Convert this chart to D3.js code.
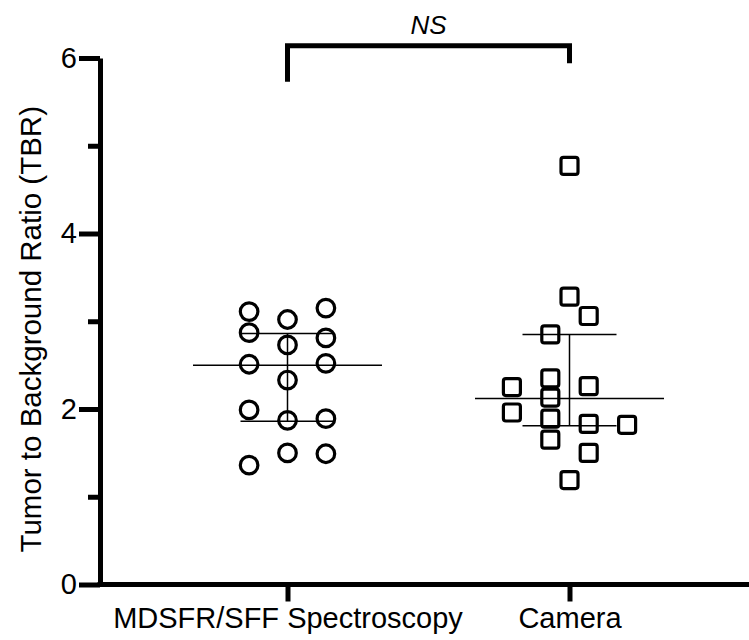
<!DOCTYPE html>
<meta charset="utf-8">
<style>
    body { margin: 0; background: #fff; }
    svg { display: block; font-family: "Liberation Sans", Arial, Helvetica, sans-serif; }
    .pt { fill: none; stroke: #000; stroke-width: 3.2px; }
    .stat { stroke: #000; stroke-width: 1.5px; }
</style>
<svg width="749" height="640">
    <rect fill="#fff" width="100%" height="100%"></rect>
</svg>
<script src="https://cdn.jsdelivr.net/npm/d3@7"></script>
<script>

    // groups on the x axis
    var groups = ["MDSFR/SFF Spectroscopy", "Camera"];

    // TBR values, with the column slot of the scatter
    var spectroValues = [3.11, 3.02, 3.15, 2.87, 2.81, 2.73, 2.51, 2.52, 2.33, 1.99, 1.87, 1.89, 1.50, 1.49, 1.36];
    var spectroSlots  = [-2, 0, 2, -2, 2, 0, -2, 2, 0, -2, 0, 2, 0, 2, -2];
    var cameraValues  = [4.77, 3.28, 3.06, 2.85, 2.35, 2.25, 2.26, 2.13, 1.96, 1.89, 1.83, 1.82, 1.65, 1.50, 1.19];
    var cameraSlots   = [0, 0, 1, -1, -1, -3, 1, -1, -3, -1, 1, 3, -1, 1, 0];

    // median and interquartile range per group
    var medians = [2.50, 2.12];
    var q1 = [1.86, 1.81];
    var q3 = [2.86, 2.85];

    var yTicks = [0, 2, 4, 6];
    var yMinorTicks = [1, 3, 5];

    // NS bracket (in data units): top, left leg end, right leg end
    var bracketTop = 6.14, bracketLeft = 5.73, bracketRight = 5.94;

    var margin = {top: 0, left: 100},
        width = 749 - margin.left;

    var svg = d3.select("svg");
    var g = svg.append("g").attr("transform", "translate(" + margin.left + "," + margin.top + ")");

    var x = d3.scalePoint().domain(groups).range([187.5, 469.5]);
    var slot = d3.scaleLinear().domain([-1, 1]).range([-19.2, 19.2]);
    var y = d3.scaleLinear().domain([0, 6]).range([584.5, 58]);

    var points = [];
    spectroValues.forEach(function (v, i) { points.push({g: groups[0], v: v, s: spectroSlots[i]}); });
    cameraValues.forEach(function (v, i) { points.push({g: groups[1], v: v, s: cameraSlots[i]}); });

    // y axis, major and minor
    var yAxis = g.append("g")
        .call(d3.axisLeft(y).tickValues(yTicks).tickFormat(d3.format("d"))
            .tickSize(21).tickSizeOuter(0).tickPadding(2));
    yAxis.select(".domain").attr("stroke-width", 5);
    yAxis.selectAll(".tick line").attr("stroke-width", 5);
    yAxis.selectAll("text").attr("font-size", 29).attr("fill", "#000").attr("font-family", null);

    var yMinor = g.append("g")
        .call(d3.axisLeft(y).tickValues(yMinorTicks).tickSize(12).tickFormat(""));
    yMinor.select(".domain").remove();
    yMinor.selectAll(".tick line").attr("stroke-width", 5);

    // x axis
    var xAxis = g.append("g")
        .attr("transform", "translate(0," + y(0) + ")")
        .call(d3.axisBottom(x).tickSize(17).tickPadding(6).tickSizeOuter(0));
    xAxis.select(".domain").remove();
    xAxis.append("line")
        .attr("x1", -2.5).attr("x2", width)
        .attr("stroke", "#000").attr("stroke-width", 5);
    xAxis.selectAll(".tick line").attr("stroke-width", 5);
    xAxis.selectAll("text").attr("font-size", 29).attr("fill", "#000").attr("font-family", null);

    // y axis title
    svg.append("text")
        .attr("transform", "translate(41," + (y(3) + 8) + ") rotate(-90)")
        .attr("text-anchor", "middle")
        .attr("font-size", 29.5)
        .text("Tumor to Background Ratio (TBR)");

    // median + IQR
    var stats = g.append("g").selectAll("g").data(groups).join("g");
    stats.append("line").attr("class", "stat")
        .attr("x1", function (d) { return x(d) - 94.5; })
        .attr("x2", function (d) { return x(d) + 94.5; })
        .attr("y1", function (d, i) { return y(medians[i]); })
        .attr("y2", function (d, i) { return y(medians[i]); });
    stats.append("line").attr("class", "stat")
        .attr("x1", function (d) { return x(d) - 47; })
        .attr("x2", function (d) { return x(d) + 47; })
        .attr("y1", function (d, i) { return y(q3[i]); })
        .attr("y2", function (d, i) { return y(q3[i]); });
    stats.append("line").attr("class", "stat")
        .attr("x1", function (d) { return x(d) - 47; })
        .attr("x2", function (d) { return x(d) + 47; })
        .attr("y1", function (d, i) { return y(q1[i]); })
        .attr("y2", function (d, i) { return y(q1[i]); });
    stats.append("line").attr("class", "stat")
        .attr("x1", function (d) { return x(d); })
        .attr("x2", function (d) { return x(d); })
        .attr("y1", function (d, i) { return y(q3[i]); })
        .attr("y2", function (d, i) { return y(q1[i]); });

    // points: circles for spectroscopy, squares for camera
    g.append("g").selectAll("circle")
        .data(points.filter(function (d) { return d.g === groups[0]; }))
        .join("circle").attr("class", "pt")
        .attr("cx", function (d) { return x(d.g) + slot(d.s); })
        .attr("cy", function (d) { return y(d.v); })
        .attr("r", 8.8);

    var side = 17;
    g.append("g").selectAll("rect")
        .data(points.filter(function (d) { return d.g === groups[1]; }))
        .join("rect").attr("class", "pt")
        .attr("x", function (d) { return x(d.g) + slot(d.s) - side / 2; })
        .attr("y", function (d) { return y(d.v) - side / 2; })
        .attr("width", side).attr("height", side)
        .attr("rx", 2.5);

    // significance bracket
    var bracket = d3.line();
    g.append("path")
        .attr("d", bracket([
            [x(groups[0]), y(bracketLeft)],
            [x(groups[0]), y(bracketTop)],
            [x(groups[1]), y(bracketTop)],
            [x(groups[1]), y(bracketRight)]
        ]))
        .attr("fill", "none").attr("stroke", "#000").attr("stroke-width", 5);

    g.append("text")
        .attr("x", (x(groups[0]) + x(groups[1])) / 2)
        .attr("y", y(bracketTop) - 12)
        .attr("text-anchor", "middle")
        .attr("font-size", 26)
        .attr("font-style", "italic")
        .text("NS");

</script>
